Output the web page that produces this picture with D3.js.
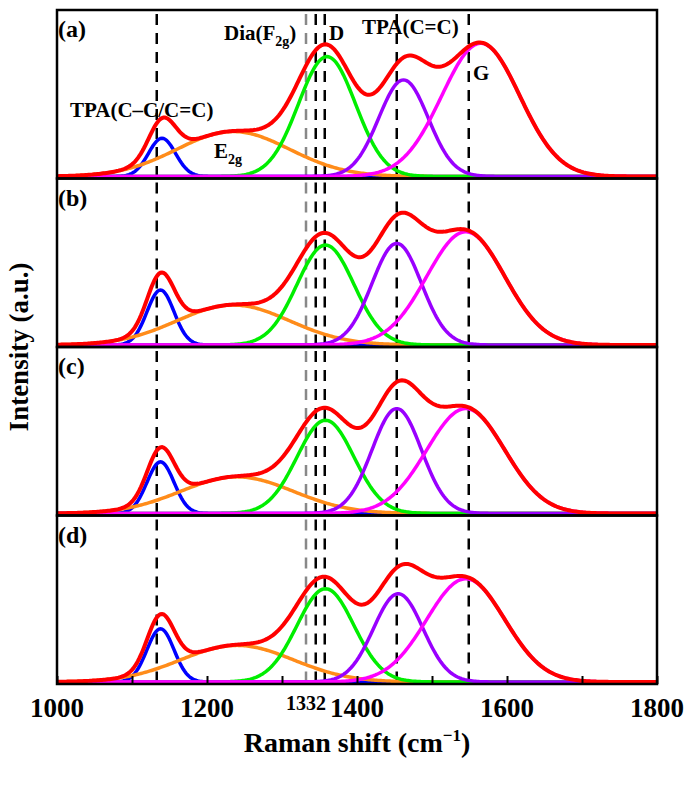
<!DOCTYPE html>
<html><head><meta charset="utf-8">
<script src="https://cdn.jsdelivr.net/npm/d3@7"></script>
<style>body{margin:0;background:#fff}text{font-family:"Liberation Serif","Times New Roman",serif;font-weight:bold}</style>
</head><body><div id="chart"></div>
<script>
// peak parameters per panel: [center, height(fraction), sigma]
const panelLabels = ["(a)", "(b)", "(c)", "(d)"];
const componentColors = ["#0000ff", "#ff8c1a", "#00ee00", "#9900ff", "#ff00ff"];
const centers = [
  [1140, 1235, 1360, 1462, 1565],
  [1138, 1235, 1358, 1453, 1545],
  [1138, 1240, 1358, 1453, 1545],
  [1138, 1240, 1358, 1455, 1545]
];
const heights = [
  [0.23, 0.27, 0.72, 0.58, 0.80],
  [0.33, 0.24, 0.60, 0.61, 0.68],
  [0.31, 0.22, 0.56, 0.63, 0.63],
  [0.32, 0.22, 0.56, 0.53, 0.62]
];
const sigmas = [18, 75, 38, 33, 52];
const blackLines = [1133, 1345, 1357, 1453, 1549];
const grayLine = 1332;
const xTicks = [1000, 1200, 1400, 1600, 1800];

const W = 698, H = 786;
const m = {left: 57, right: 41, top: 10};
const panelH = 168.5;

const svg = d3.select("#chart").append("svg").attr("width", W).attr("height", H);
const x = d3.scaleLinear().domain([1000, 1800]).range([m.left, W - m.right]);
const xs = d3.range(1000, 1801, 2);
const gauss = (v, c, h, s) => h * Math.exp(-((v - c) ** 2) / (2 * s * s));

panelLabels.forEach((lab, i) => {
  const top = m.top + i * panelH;
  const y = d3.scaleLinear().domain([0, 1]).range([top + panelH - 2, top]);
  const g = svg.append("g");
  const line = d3.line().x(d => x(d[0])).y(d => y(d[1]));
  // dashed reference lines
  blackLines.forEach(v => g.append("line").attr("x1", x(v)).attr("x2", x(v))
    .attr("y1", top + 4).attr("y2", top + panelH)
    .attr("stroke", "#000").attr("stroke-width", 2.5).attr("stroke-dasharray", "11,8"));
  g.append("line").attr("x1", x(grayLine)).attr("x2", x(grayLine))
    .attr("y1", top + 4).attr("y2", top + panelH)
    .attr("stroke", "#888").attr("stroke-width", 2.5).attr("stroke-dasharray", "11,8");
  // components
  centers[i].forEach((c, k) => {
    g.append("path").datum(xs.map(v => [v, gauss(v, c, heights[i][k], sigmas[k])]))
      .attr("d", line).attr("fill", "none").attr("stroke", componentColors[k]).attr("stroke-width", 3.5);
  });
  // sum
  const sum = xs.map(v => [v, d3.sum(centers[i], (c, k) => gauss(v, c, heights[i][k], sigmas[k]))]);
  g.append("path").datum(sum).attr("d", line).attr("fill", "none")
    .attr("stroke", "#000").attr("stroke-width", 1.2);
  g.append("path").datum(sum).attr("d", line).attr("fill", "none")
    .attr("stroke", "#ff0000").attr("stroke-width", 4);
  g.append("rect").attr("x", x(1000)).attr("y", top).attr("width", x(1800) - x(1000)).attr("height", panelH)
    .attr("fill", "none").attr("stroke", "#000").attr("stroke-width", 2.5);
  g.append("text").attr("x", x(1000) + 1).attr("y", top + 27).attr("font-size", 24).text(lab);
});

// annotations panel (a)
const ann = svg.append("g").attr("font-size", 21);
ann.append("text").attr("x", 70).attr("y", 117).text("TPA(C\u2013C/C=C)");
const e = ann.append("text").attr("x", 214).attr("y", 158);
e.append("tspan").text("E");
e.append("tspan").attr("font-size", 14).attr("dy", 6).text("2g");
const f = ann.append("text").attr("x", 224).attr("y", 40);
f.append("tspan").text("Dia(F");
f.append("tspan").attr("font-size", 14).attr("dy", 6).text("2g");
f.append("tspan").attr("dy", -6).text(")");
ann.append("text").attr("x", 329).attr("y", 40).text("D");
ann.append("text").attr("x", 362).attr("y", 34).text("TPA(C=C)");
ann.append("text").attr("x", 473).attr("y", 80).text("G");

// x axis
const bottom = m.top + 4 * panelH;
const ax = svg.append("g").attr("transform", `translate(0,${bottom})`)
  .call(d3.axisBottom(x).tickValues(d3.range(1000, 1801, 100)).tickSize(-8).tickFormat(""));
ax.select(".domain").remove();
ax.selectAll("line").attr("stroke-width", 2);
xTicks.forEach(v => svg.append("text").attr("x", x(v)).attr("y", bottom + 33)
  .attr("text-anchor", "middle").attr("font-size", 27).text(v));
svg.append("text").attr("x", x(grayLine)).attr("y", bottom + 26)
  .attr("text-anchor", "middle").attr("font-size", 20).text("1332");
const t = svg.append("text").attr("x", 357).attr("y", 752).attr("text-anchor", "middle").attr("font-size", 28);
t.append("tspan").text("Raman shift (cm");
t.append("tspan").attr("font-size", 17).attr("dy", -11).text("\u22121");
t.append("tspan").attr("dy", 11).text(")");
svg.append("text").attr("transform", `translate(28,${m.top + 2 * panelH}) rotate(-90)`)
  .attr("text-anchor", "middle").attr("font-size", 27).text("Intensity (a.u.)");
</script></body></html>
